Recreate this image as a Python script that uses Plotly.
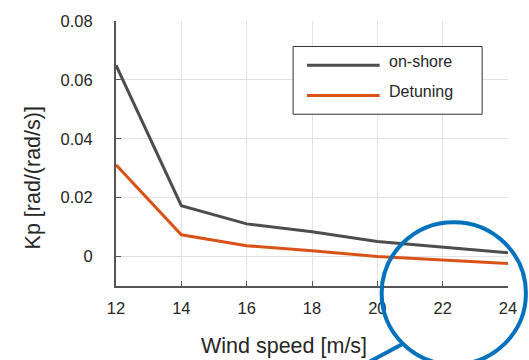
import plotly.graph_objects as go

# Wind speed operating points and proportional gain values
wind_speed = [12, 14, 16, 18, 20, 22, 24]
kp_onshore = [0.065, 0.0173, 0.0111, 0.0084, 0.0051, 0.0033, 0.0013]
kp_detuning = [0.0312, 0.0074, 0.0037, 0.0020, 0.0000, -0.0013, -0.0024]

x_ticks = [12, 14, 16, 18, 20, 22, 24]
y_ticks = [0, 0.02, 0.04, 0.06, 0.08]
y_tick_text = ["0", "0.02", "0.04", "0.06", "0.08"]

series_names = ["on-shore", "Detuning"]
series_colors = ["#4d4d4d", "#D95319"]

W, H = 529, 360
L, R, T, B = 116, 19, 16, 74
PW, PH = W - L - R, H - T - B

def px(x):
    return (x - L) / PW

def py(y):
    return (H - B - y) / PH

FONT = "Liberation Sans, Arial, sans-serif"
TXT = "#262626"

fig = go.Figure()
for name, ys, col in zip(series_names, [kp_onshore, kp_detuning], series_colors):
    fig.add_trace(go.Scatter(x=wind_speed, y=ys, mode="lines", name=name,
                             line=dict(color=col, width=3), showlegend=False))

shapes = []
annotations = []

# Legend box drawn by hand for long line samples
shapes.append(dict(type="rect", xref="paper", yref="paper",
                   x0=px(294), x1=px(484), y0=py(111), y1=py(42),
                   line=dict(color="#333333", width=1), fillcolor="white", layer="above"))
for i, (name, col) in enumerate(zip(series_names, series_colors)):
    ly = 61 + i * 31
    shapes.append(dict(type="line", xref="paper", yref="paper",
                       x0=px(308), x1=px(381), y0=py(ly), y1=py(ly),
                       line=dict(color=col, width=3), layer="above"))
    annotations.append(dict(text=name, xref="paper", yref="paper",
                            x=px(388), y=py(ly - 4), xanchor="left", yanchor="middle",
                            showarrow=False, font=dict(family=FONT, size=16, color=TXT)))

# Magnifier callout
shapes.append(dict(type="circle", xref="paper", yref="paper",
                   x0=px(383), x1=px(528), y0=py(366), y1=py(221),
                   line=dict(color="#0072BD", width=4), layer="above"))
shapes.append(dict(type="line", xref="paper", yref="paper",
                   x0=px(404), y0=py(345), x1=px(362), y1=py(368),
                   line=dict(color="#0072BD", width=4), layer="above"))

# Axis titles
annotations.append(dict(text="Wind speed [m/s]", xref="paper", yref="paper",
                        x=px(285), y=py(347), xanchor="center", yanchor="middle",
                        showarrow=False, font=dict(family=FONT, size=21.5, color=TXT)))
annotations.append(dict(text="Kp [rad/(rad/s)]", xref="paper", yref="paper",
                        x=px(33), y=py(176), xanchor="center", yanchor="middle",
                        textangle=-90, showarrow=False,
                        font=dict(family=FONT, size=21.5, color=TXT)))

fig.update_layout(
    width=W, height=H,
    margin=dict(l=L, r=R, t=T, b=B),
    paper_bgcolor="white", plot_bgcolor="white",
    font=dict(family=FONT, size=16.5, color=TXT),
    shapes=shapes, annotations=annotations,
    xaxis=dict(range=[12, 24], tickvals=x_ticks, ticks="inside", ticklen=5,
               tickcolor="#555555", showline=True, linecolor="#555555", linewidth=2,
               showgrid=True, gridcolor="#e3e3e3", gridwidth=1, zeroline=False,
               tickfont=dict(size=16.5, color=TXT), ticklabelstandoff=6),
    yaxis=dict(range=[-0.01, 0.08], tickvals=y_ticks, ticktext=y_tick_text,
               ticks="inside", ticklen=5, tickcolor="#555555",
               showline=True, linecolor="#555555", linewidth=2,
               showgrid=True, gridcolor="#e3e3e3", gridwidth=1, zeroline=False,
               tickfont=dict(size=16.5, color=TXT), ticklabelstandoff=18),
)

fig.write_html("out.html")
